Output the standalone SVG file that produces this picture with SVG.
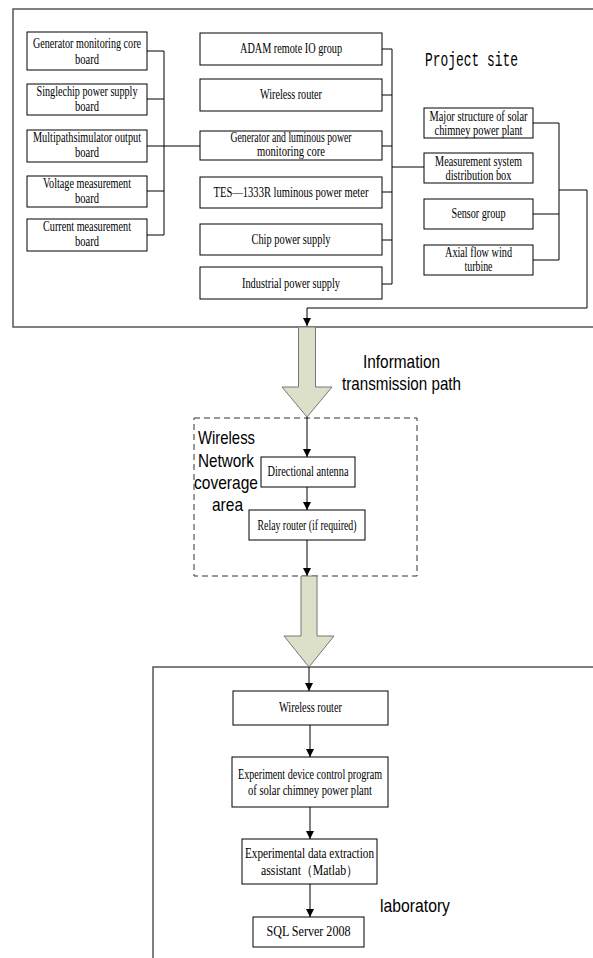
<svg xmlns="http://www.w3.org/2000/svg" width="593" height="958" viewBox="0 0 593 958">
<defs>
<style>
.bx{fill:#fff;stroke:#000;stroke-width:1}
.t{font-family:"Liberation Serif","Times New Roman",serif;font-size:14px;fill:#000;text-anchor:middle}
.s{font-family:"Liberation Sans",Arial,sans-serif;font-size:19px;fill:#000}
.m{font-family:"Liberation Mono","DejaVu Sans Mono",monospace;font-size:20px;fill:#000}
.ln{fill:none;stroke:#000;stroke-width:1}
.frame{fill:none;stroke:#555;stroke-width:1.5}
.big{fill:#dde0c9;stroke:#777;stroke-width:1}
.ar{fill:none;stroke:#000;stroke-width:1;marker-end:url(#ah)}
</style>
<marker id="ah" markerWidth="8" markerHeight="8" refX="8" refY="4" orient="auto" markerUnits="userSpaceOnUse">
<path d="M0,0 L8,4 L0,8 z" fill="#000"/>
</marker>
</defs>

<g id="frames">
<path class="frame" d="M593,9 H13 V327 H593"/>
<rect x="194" y="418" width="223" height="158" fill="none" stroke="#333" stroke-width="1" stroke-dasharray="6,4"/>
<path class="frame" d="M593,667 H153 V958"/>
</g>

<g id="labels">
<text class="m" x="425" y="66" textLength="93" lengthAdjust="spacingAndGlyphs">Project site</text>
<text class="s" x="363" y="368" textLength="77" lengthAdjust="spacingAndGlyphs">Information</text>
<text class="s" x="342" y="390" textLength="119" lengthAdjust="spacingAndGlyphs">transmission path</text>
<text class="s" x="198" y="444" textLength="57" lengthAdjust="spacingAndGlyphs">Wireless</text>
<text class="s" x="198" y="467" textLength="56" lengthAdjust="spacingAndGlyphs">Network</text>
<text class="s" x="194" y="489" textLength="64" lengthAdjust="spacingAndGlyphs">coverage</text>
<text class="s" x="212" y="511" textLength="31" lengthAdjust="spacingAndGlyphs">area</text>
<text class="s" x="380" y="912" textLength="70" lengthAdjust="spacingAndGlyphs">laboratory</text>
</g>

<g id="connectors">
<path class="ln" d="M147,51 H164 M147,99 H164 M147,146 H200 M147,191 H164 M147,235 H164 M164,51 V235"/>
<path class="ln" d="M382,49 H392 M382,95 H392 M382,146 H392 M382,192 H392 M382,240 H392 M382,284 H392 M392,49 V284 M392,167 H424"/>
<path class="ln" d="M533,123 H559 M533,214 H559 M533,260 H559 M559,123 V260"/>
<path class="ar" d="M559,190 H587 V308 H307 V326"/>
<path class="ar" d="M307,417 V457"/>
<path class="ar" d="M307,487 V510"/>
<path class="ar" d="M307,540 V576"/>
<path class="ar" d="M309,667 V691"/>
<path class="ar" d="M310,725 V757"/>
<path class="ar" d="M310,807 V839"/>
<path class="ar" d="M310,884 V917"/>
</g>

<g id="arrow1"><path class="big" d="M298.5,327 H315.5 V387 H332 L307,417 L282,387 H298.5 Z"/></g>
<g id="arrow2"><path class="big" d="M301,576 H317 V636 H334 L309,667 L284,636 H301 Z"/></g>

<g id="n-gen-board"><rect class="bx" x="27" y="32" width="120" height="38"/>
<text class="t" x="87" y="48" textLength="108" lengthAdjust="spacingAndGlyphs">Generator monitoring core</text>
<text class="t" x="87" y="64" textLength="24" lengthAdjust="spacingAndGlyphs">board</text></g>
<g id="n-single"><rect class="bx" x="27" y="84" width="120" height="31"/>
<text class="t" x="87" y="96" textLength="101" lengthAdjust="spacingAndGlyphs">Singlechip power supply</text>
<text class="t" x="87" y="111" textLength="24" lengthAdjust="spacingAndGlyphs">board</text></g>
<g id="n-multi"><rect class="bx" x="27" y="130" width="120" height="32"/>
<text class="t" x="87" y="142" textLength="108" lengthAdjust="spacingAndGlyphs">Multipathsimulator output</text>
<text class="t" x="87" y="157" textLength="24" lengthAdjust="spacingAndGlyphs">board</text></g>
<g id="n-volt"><rect class="bx" x="27" y="176" width="120" height="31"/>
<text class="t" x="87" y="188" textLength="88" lengthAdjust="spacingAndGlyphs">Voltage measurement</text>
<text class="t" x="87" y="203" textLength="24" lengthAdjust="spacingAndGlyphs">board</text></g>
<g id="n-curr"><rect class="bx" x="27" y="219" width="120" height="32"/>
<text class="t" x="87" y="231" textLength="88" lengthAdjust="spacingAndGlyphs">Current measurement</text>
<text class="t" x="87" y="246" textLength="24" lengthAdjust="spacingAndGlyphs">board</text></g>

<g id="n-adam"><rect class="bx" x="200" y="33" width="182" height="32"/>
<text class="t" x="291" y="53" textLength="102" lengthAdjust="spacingAndGlyphs">ADAM remote IO group</text></g>
<g id="n-wr1"><rect class="bx" x="200" y="79" width="182" height="32"/>
<text class="t" x="291" y="99" textLength="62" lengthAdjust="spacingAndGlyphs">Wireless router</text></g>
<g id="n-genlum"><rect class="bx" x="200" y="131" width="182" height="29"/>
<text class="t" x="291" y="142" textLength="121" lengthAdjust="spacingAndGlyphs">Generator and luminous power</text>
<text class="t" x="291" y="156" textLength="68" lengthAdjust="spacingAndGlyphs">monitoring core</text></g>
<g id="n-tes"><rect class="bx" x="200" y="177" width="182" height="31"/>
<text class="t" x="291" y="197" textLength="155" lengthAdjust="spacingAndGlyphs">TES—1333R luminous power meter</text></g>
<g id="n-chip"><rect class="bx" x="200" y="224" width="182" height="31"/>
<text class="t" x="291" y="244" textLength="79" lengthAdjust="spacingAndGlyphs">Chip power supply</text></g>
<g id="n-ind"><rect class="bx" x="200" y="267" width="182" height="32"/>
<text class="t" x="291" y="288" textLength="98" lengthAdjust="spacingAndGlyphs">Industrial power supply</text></g>

<g id="n-major"><rect class="bx" x="424" y="108" width="109" height="30"/>
<text class="t" x="478.5" y="121" textLength="98" lengthAdjust="spacingAndGlyphs">Major structure of solar</text>
<text class="t" x="478.5" y="135" textLength="88" lengthAdjust="spacingAndGlyphs">chimney power plant</text></g>
<g id="n-meas"><rect class="bx" x="424" y="153" width="109" height="30"/>
<text class="t" x="478.5" y="166" textLength="87" lengthAdjust="spacingAndGlyphs">Measurement system</text>
<text class="t" x="478.5" y="180" textLength="66" lengthAdjust="spacingAndGlyphs">distribution box</text></g>
<g id="n-sensor"><rect class="bx" x="424" y="199" width="109" height="30"/>
<text class="t" x="478.5" y="218" textLength="54" lengthAdjust="spacingAndGlyphs">Sensor group</text></g>
<g id="n-axial"><rect class="bx" x="424" y="245" width="109" height="30"/>
<text class="t" x="478.5" y="257" textLength="67" lengthAdjust="spacingAndGlyphs">Axial flow wind</text>
<text class="t" x="478.5" y="271" textLength="28" lengthAdjust="spacingAndGlyphs">turbine</text></g>

<g id="n-antenna"><rect class="bx" x="261" y="457" width="94" height="30"/>
<text class="t" x="308" y="476" textLength="81" lengthAdjust="spacingAndGlyphs">Directional antenna</text></g>
<g id="n-relay"><rect class="bx" x="249" y="510" width="116" height="30"/>
<text class="t" x="307" y="530" textLength="99" lengthAdjust="spacingAndGlyphs">Relay router (if required)</text></g>

<g id="n-wr2"><rect class="bx" x="233" y="691" width="155" height="34"/>
<text class="t" x="310.5" y="712" textLength="63" lengthAdjust="spacingAndGlyphs">Wireless router</text></g>
<g id="n-ctrl"><rect class="bx" x="232" y="757" width="156" height="50"/>
<text class="t" x="310" y="779" textLength="144" lengthAdjust="spacingAndGlyphs">Experiment device control program</text>
<text class="t" x="310" y="795" textLength="124" lengthAdjust="spacingAndGlyphs">of solar chimney power plant</text></g>
<g id="n-extract"><rect class="bx" x="242" y="839" width="135" height="45"/>
<text class="t" x="309.5" y="858" textLength="129" lengthAdjust="spacingAndGlyphs">Experimental data extraction</text>
<text class="t" x="309.5" y="875" textLength="97" lengthAdjust="spacingAndGlyphs">assistant（Matlab）</text></g>
<g id="n-sql"><rect class="bx" x="253" y="917" width="111" height="30"/>
<text class="t" x="308.5" y="936" textLength="84" lengthAdjust="spacingAndGlyphs">SQL Server 2008</text></g>
</svg>
